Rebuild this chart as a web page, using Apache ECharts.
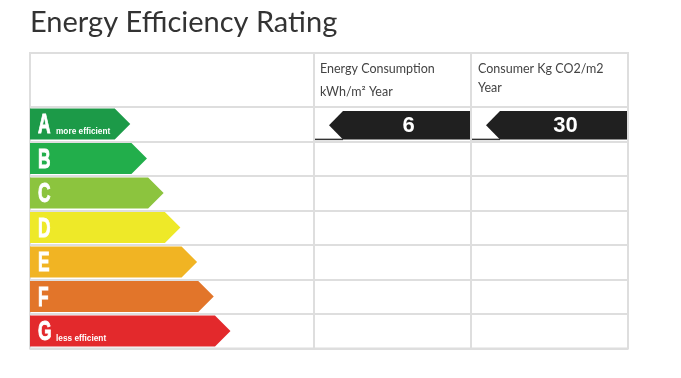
<!DOCTYPE html>
<html>
<head>
<meta charset="utf-8">
<script src="https://cdn.jsdelivr.net/npm/echarts@6/dist/echarts.min.js"></script>
<style>
  html, body { margin: 0; padding: 0; background: #fff; }
  #chart { width: 681px; height: 378px; }
</style>
</head>
<body>
<div id="chart"></div>
<script>
// ---- data ----
const titleText = 'Energy Efficiency Rating';
const ratings = ['A', 'B', 'C', 'D', 'E', 'F', 'G'];
const ratingLengths = [6, 7, 8, 9, 10, 11, 12];
const ratingNotes = ['more efficient', '', '', '', '', '', 'less efficient'];
const headerEnergy = ['Energy Consumption', 'kWh/m² Year'];
const headerCo2 = ['Consumer Kg CO2/m2', 'Year'];
const energyRating = 'A';
const energyValue = 6;
const co2Rating = 'A';
const co2Value = 30;

// ---- styles ----
const palette = ['#1c9a48', '#22ae4b', '#8cc43e', '#eee928', '#f1b423', '#e2752a', '#e3292c'];
const lineColor = '#dedede';
const lineW = 2;
const letterFont = '"Liberation Sans", "DejaVu Sans", sans-serif';

const chart = echarts.init(document.getElementById('chart'));

function ratingItem(params, api) {
  const idx = params.dataIndex;
  const start = api.coord([0, idx]);
  const end = api.coord([api.value(0), idx]);
  const h = api.size([0, 1])[1] * 0.9;
  const y = start[1] - 0.3;
  const x0 = start[0];
  const xe = end[0];
  const children = [{
    type: 'polygon',
    shape: { points: [[x0, y - h / 2], [xe - 15.5, y - h / 2], [xe, y], [xe - 15.5, y + h / 2], [x0, y + h / 2]] },
    style: { fill: palette[idx] }
  }, {
    type: 'text',
    x: x0 + 8, y: y + 1.5, scaleX: 0.62,
    style: { text: ratings[idx], fill: '#fff', stroke: '#fff', lineWidth: 1, font: 'bold 28px ' + letterFont, verticalAlign: 'middle', align: 'left' }
  }];
  if (ratingNotes[idx]) {
    children.push({
      type: 'text',
      x: x0 + 26, y: y + h / 2 - 3.5, scaleX: 0.92,
      style: { text: ratingNotes[idx], fill: '#fff', font: 'bold 9px ' + letterFont, verticalAlign: 'bottom', align: 'left' }
    });
  }
  return { type: 'group', children };
}

function pointerItem(params, api) {
  const cs = params.coordSys;
  const idx = api.value(1);
  const c = api.coord([0, idx]);
  const y = c[1] + 1;
  const h = api.size([0, 1])[1] * 0.82;
  const left = cs.x;
  const right = cs.x + cs.width - 1;
  return {
    type: 'group',
    children: [{
      type: 'line',
      shape: { x1: left + 1, y1: y + h / 2, x2: left + 29, y2: y + h / 2 },
      style: { stroke: '#333', lineWidth: 1.5 }
    }, {
      type: 'polygon',
      shape: { points: [[left + 15, y], [left + 29, y - h / 2], [right, y - h / 2], [right, y + h / 2], [left + 29, y + h / 2]] },
      style: { fill: '#202020' }
    }, {
      type: 'text',
      x: (left + 29 + right) / 2 + 2, y: y + 1,
      style: { text: String(api.value(0)), fill: '#fff', font: 'bold 22px ' + letterFont, align: 'center', verticalAlign: 'middle' }
    }]
  };
}

const gridDefs = [
  { left: 30, width: 284 },
  { left: 314, width: 157 },
  { left: 471, width: 157 }
];

const option = {
  animation: false,
  backgroundColor: '#fff',
  title: {
    text: titleText,
    left: 30, top: 8, padding: 0,
    textStyle: { fontFamily: 'Lato', fontSize: 29, fontWeight: 'normal', color: '#333' }
  },
  grid: gridDefs.map(g => ({
    left: g.left, width: g.width, top: 107, height: 241.5,
    show: true, borderColor: lineColor, borderWidth: lineW, backgroundColor: 'transparent'
  })),
  xAxis: gridDefs.map((g, i) => ({
    type: 'value', gridIndex: i, min: 0, max: i === 0 ? 17 : 1, show: false
  })),
  yAxis: gridDefs.map((g, i) => ({
    type: 'category', gridIndex: i, data: ratings, inverse: true,
    axisLine: { show: false }, axisTick: { show: false }, axisLabel: { show: false },
    splitLine: { show: true, interval: 0, lineStyle: { color: lineColor, width: lineW } }
  })),
  graphic: [
    { type: 'rect', shape: { x: 30, y: 53, width: 598, height: 54 }, style: { fill: 'none', stroke: lineColor, lineWidth: lineW } },
    { type: 'line', shape: { x1: 314, y1: 53, x2: 314, y2: 107 }, style: { stroke: lineColor, lineWidth: lineW } },
    { type: 'line', shape: { x1: 471, y1: 53, x2: 471, y2: 107 }, style: { stroke: lineColor, lineWidth: lineW } },
    { type: 'text', x: 320, y: 69, style: { text: headerEnergy[0], fill: '#444', font: '12.5px Lato', verticalAlign: 'middle' } },
    { type: 'text', x: 320, y: 92, style: { text: headerEnergy[1], fill: '#444', font: '12.5px Lato', verticalAlign: 'middle' } },
    { type: 'text', x: 478, y: 69, style: { text: headerCo2[0], fill: '#444', font: '12.5px Lato', verticalAlign: 'middle' } },
    { type: 'text', x: 478, y: 88, style: { text: headerCo2[1], fill: '#444', font: '12.5px Lato', verticalAlign: 'middle' } }
  ],
  series: [
    {
      type: 'custom', xAxisIndex: 0, yAxisIndex: 0,
      renderItem: ratingItem,
      encode: { x: 0, y: 1 },
      data: ratings.map((r, i) => [ratingLengths[i], r])
    },
    {
      type: 'custom', xAxisIndex: 1, yAxisIndex: 1,
      renderItem: pointerItem,
      encode: { y: 1 },
      data: [[energyValue, energyRating]]
    },
    {
      type: 'custom', xAxisIndex: 2, yAxisIndex: 2,
      renderItem: pointerItem,
      encode: { y: 1 },
      data: [[co2Value, co2Rating]]
    }
  ]
};
chart.setOption(option);
</script>
</body>
</html>
